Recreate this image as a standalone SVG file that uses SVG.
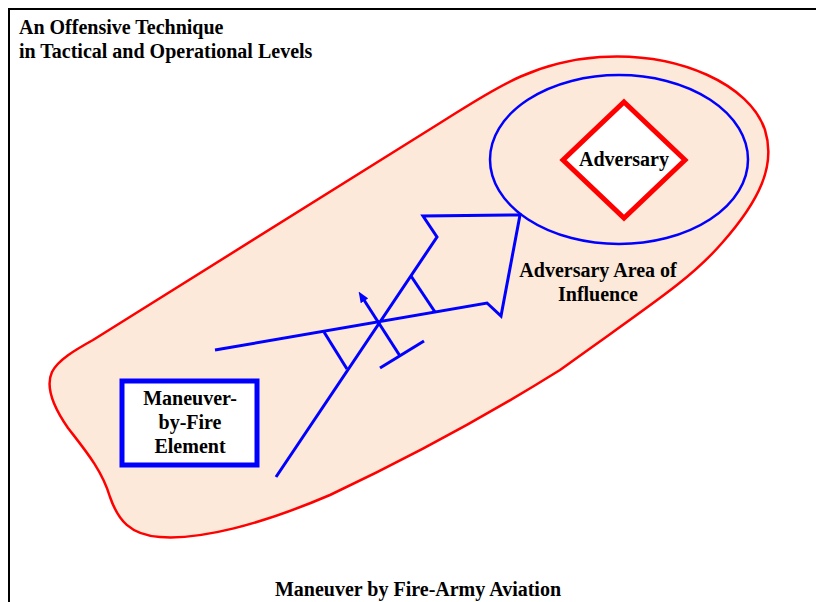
<svg xmlns="http://www.w3.org/2000/svg" width="816" height="602" viewBox="0 0 816 602">
  <style>
    .t { font-family: "Liberation Serif", "Times New Roman", serif; font-weight: bold; font-size: 20px; fill: #000; }
    .c { text-anchor: middle; }
    .blue { fill: none; stroke: #0000ff; stroke-width: 3; stroke-linejoin: miter; }
  </style>
  <defs>
    <marker id="ah" markerUnits="userSpaceOnUse" markerWidth="11" markerHeight="9" viewBox="0 0 11 9" refX="1" refY="4.5" orient="auto">
      <path d="M0,0 L11,4.5 L0,9 z" fill="#0000ff"/>
    </marker>
  </defs>
  <rect width="816" height="602" fill="#fff"/>
  <g id="frame">
    <polyline points="9,602 9,9 816,9" fill="none" stroke="#000" stroke-width="2"/>
  </g>
  <g id="title">
    <text class="t" x="19" y="34">An Offensive Technique</text>
    <text class="t" x="19" y="58">in Tactical and Operational Levels</text>
  </g>
  <g id="area">
    <path d="M 93,340 L 440,123 C 490,92 530,62 600,57 C 680,52 750,85 765,130 C 776,165 760,200 722,243 C 690,280 650,305 560,370 C 480,420 400,462 330,495 C 260,525 200,540 160,537 C 130,535 118,520 110,497 C 102,470 85,450 68,428 C 52,405 46,385 52,372 C 58,360 75,350 93,340 Z" fill="#fde9d9" stroke="#ff0000" stroke-width="2.5"/>
  </g>
  <g id="influence">
    <ellipse cx="619" cy="159.5" rx="129" ry="84.5" fill="none" stroke="#0000ff" stroke-width="2.5"/>
  </g>
  <g id="adversary">
    <polygon points="624,102 685,160 624,218 563,160" fill="#fff" stroke="#ff0000" stroke-width="5" stroke-linejoin="miter"/>
    <text class="t c" x="624" y="166">Adversary</text>
  </g>
  <g id="area-label">
    <text class="t c" x="598" y="277">Adversary Area of</text>
    <text class="t c" x="598" y="301">Influence</text>
  </g>
  <g id="maneuver-element">
    <rect x="122" y="381" width="135" height="84" fill="#fff" stroke="#0000ff" stroke-width="5"/>
    <text class="t c" x="190" y="405">Maneuver-</text>
    <text class="t c" x="190" y="429">by-Fire</text>
    <text class="t c" x="190" y="453">Element</text>
  </g>
  <g id="connectors">
    <polyline class="blue" points="276,477 437,237 423,216 520,215 501,316 487,303 215,350"/>
    <line class="blue" x1="324" y1="332" x2="347" y2="369"/>
    <line class="blue" x1="411" y1="276" x2="435" y2="312"/>
    <line class="blue" x1="380" y1="368" x2="424" y2="341"/>
    <line class="blue" x1="400" y1="356" x2="364" y2="300" marker-end="url(#ah)"/>
  </g>
  <g id="caption">
    <text class="t c" x="418" y="596">Maneuver by Fire-Army Aviation</text>
  </g>
</svg>
